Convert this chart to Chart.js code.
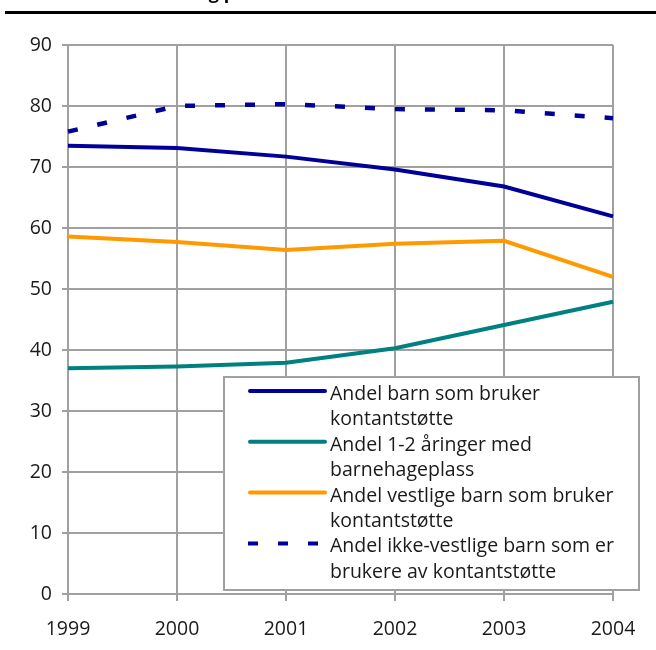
<!DOCTYPE html>
<html>
<head>
<meta charset="utf-8">
<script src="https://cdn.jsdelivr.net/npm/chart.js@4/dist/chart.umd.min.js"></script>
<style>
  html, body { margin: 0; padding: 0; background: #fff; }
  #wrap { position: relative; width: 656px; height: 650px; }
</style>
</head>
<body>
<div id="wrap"><canvas id="c" width="656" height="650"></canvas></div>
<script>
const years = ['1999', '2000', '2001', '2002', '2003', '2004'];
const barnKontantstotte = [73.5, 73.1, 71.7, 69.6, 66.8, 61.9];
const barnehageplass = [37.0, 37.3, 37.9, 40.3, 44.1, 47.9];
const vestligeKontantstotte = [58.6, 57.7, 56.4, 57.4, 57.9, 52.0];
const ikkeVestligeKontantstotte = [75.8, 80.0, 80.3, 79.5, 79.3, 78.0];
const seriesLabels = [
  ['Andel barn som bruker', 'kontantstøtte'],
  ['Andel 1-2 åringer med', 'barnehageplass'],
  ['Andel vestlige barn som bruker', 'kontantstøtte'],
  ['Andel ikke-vestlige barn som er', 'brukere av kontantstøtte']
];
const titleText = 'Utvikling på';

const FONT = '"Open Sans", "Noto Sans", sans-serif';
const FS = 19.5;
const GRID = '#a0a0a0';

const legendPlugin = {
  id: 'boxLegend',
  afterDraw(chart) {
    const ctx = chart.ctx;
    ctx.save();
    // top rule and clipped title
    ctx.fillStyle = '#000';
    ctx.font = 'bold 18px ' + FONT;
    const w = ctx.measureText('Utvikling').width;
    ctx.textBaseline = 'alphabetic';
    ctx.textAlign = 'left';
    ctx.fillText(titleText, 219 - w, -1);
    ctx.fillRect(5, 11, 651, 3);

    // legend box
    const bx = 224, by = 377, bw = 415, bh = 213;
    ctx.fillStyle = '#fff';
    ctx.fillRect(bx, by, bw, bh);
    ctx.strokeStyle = GRID;
    ctx.lineWidth = 2;
    ctx.strokeRect(bx, by, bw, bh);
    ctx.font = FS + 'px ' + FONT;
    ctx.fillStyle = '#1a1a1a';
    chart.data.datasets.forEach((ds, i) => {
      const base = 400 + i * 50.8;
      const ly = base - 9;
      const dashed = ds.borderDash && ds.borderDash.length;
      ctx.beginPath();
      ctx.strokeStyle = ds.borderColor;
      ctx.lineWidth = 4;
      ctx.lineCap = dashed ? 'butt' : 'round';
      ctx.setLineDash(dashed ? [10, 20] : []);
      ctx.moveTo(dashed ? 248 : 250, ly);
      ctx.lineTo(dashed ? 318 : 325, ly);
      ctx.stroke();
      ctx.setLineDash([]);
      const lines = seriesLabels[i];
      lines.forEach((t, j) => ctx.fillText(t, 330, base + j * 25.4));
    });
    ctx.restore();
  }
};

new Chart(document.getElementById('c'), {
  type: 'line',
  data: {
    labels: years,
    datasets: [
      { label: seriesLabels[0].join(' '), data: barnKontantstotte, borderColor: '#000099', borderWidth: 4, pointRadius: 0, tension: 0, fill: false },
      { label: seriesLabels[1].join(' '), data: barnehageplass, borderColor: '#008080', borderWidth: 4, pointRadius: 0, tension: 0, fill: false },
      { label: seriesLabels[2].join(' '), data: vestligeKontantstotte, borderColor: '#ff9900', borderWidth: 4, pointRadius: 0, tension: 0, fill: false },
      { label: seriesLabels[3].join(' '), data: ikkeVestligeKontantstotte, borderColor: '#000099', borderWidth: 4.5, borderDash: [10, 20], borderCapStyle: 'butt', pointRadius: 0, tension: 0, fill: false }
    ]
  },
  options: {
    responsive: false,
    animation: false,
    layout: { padding: { top: 45, right: 43, left: 0, bottom: 0 } },
    plugins: { legend: { display: false }, tooltip: { enabled: false } },
    scales: {
      x: {
        type: 'category',
        offset: false,
        grid: { color: GRID, lineWidth: 2, tickLength: 7 },
        border: { color: GRID, width: 2 },
        ticks: { color: '#1a1a1a', font: { family: FONT, size: FS }, padding: 17, maxRotation: 0, autoSkip: false },
        afterFit(s) { s.height = 56; }
      },
      y: {
        min: 0, max: 90,
        grid: { color: GRID, lineWidth: 2, tickLength: 6 },
        border: { color: GRID, width: 2 },
        ticks: { stepSize: 10, color: '#1a1a1a', font: { family: FONT, size: FS }, padding: 10 },
        afterFit(s) { s.width = 68; }
      }
    }
  },
  plugins: [legendPlugin]
});
</script>
</body>
</html>
